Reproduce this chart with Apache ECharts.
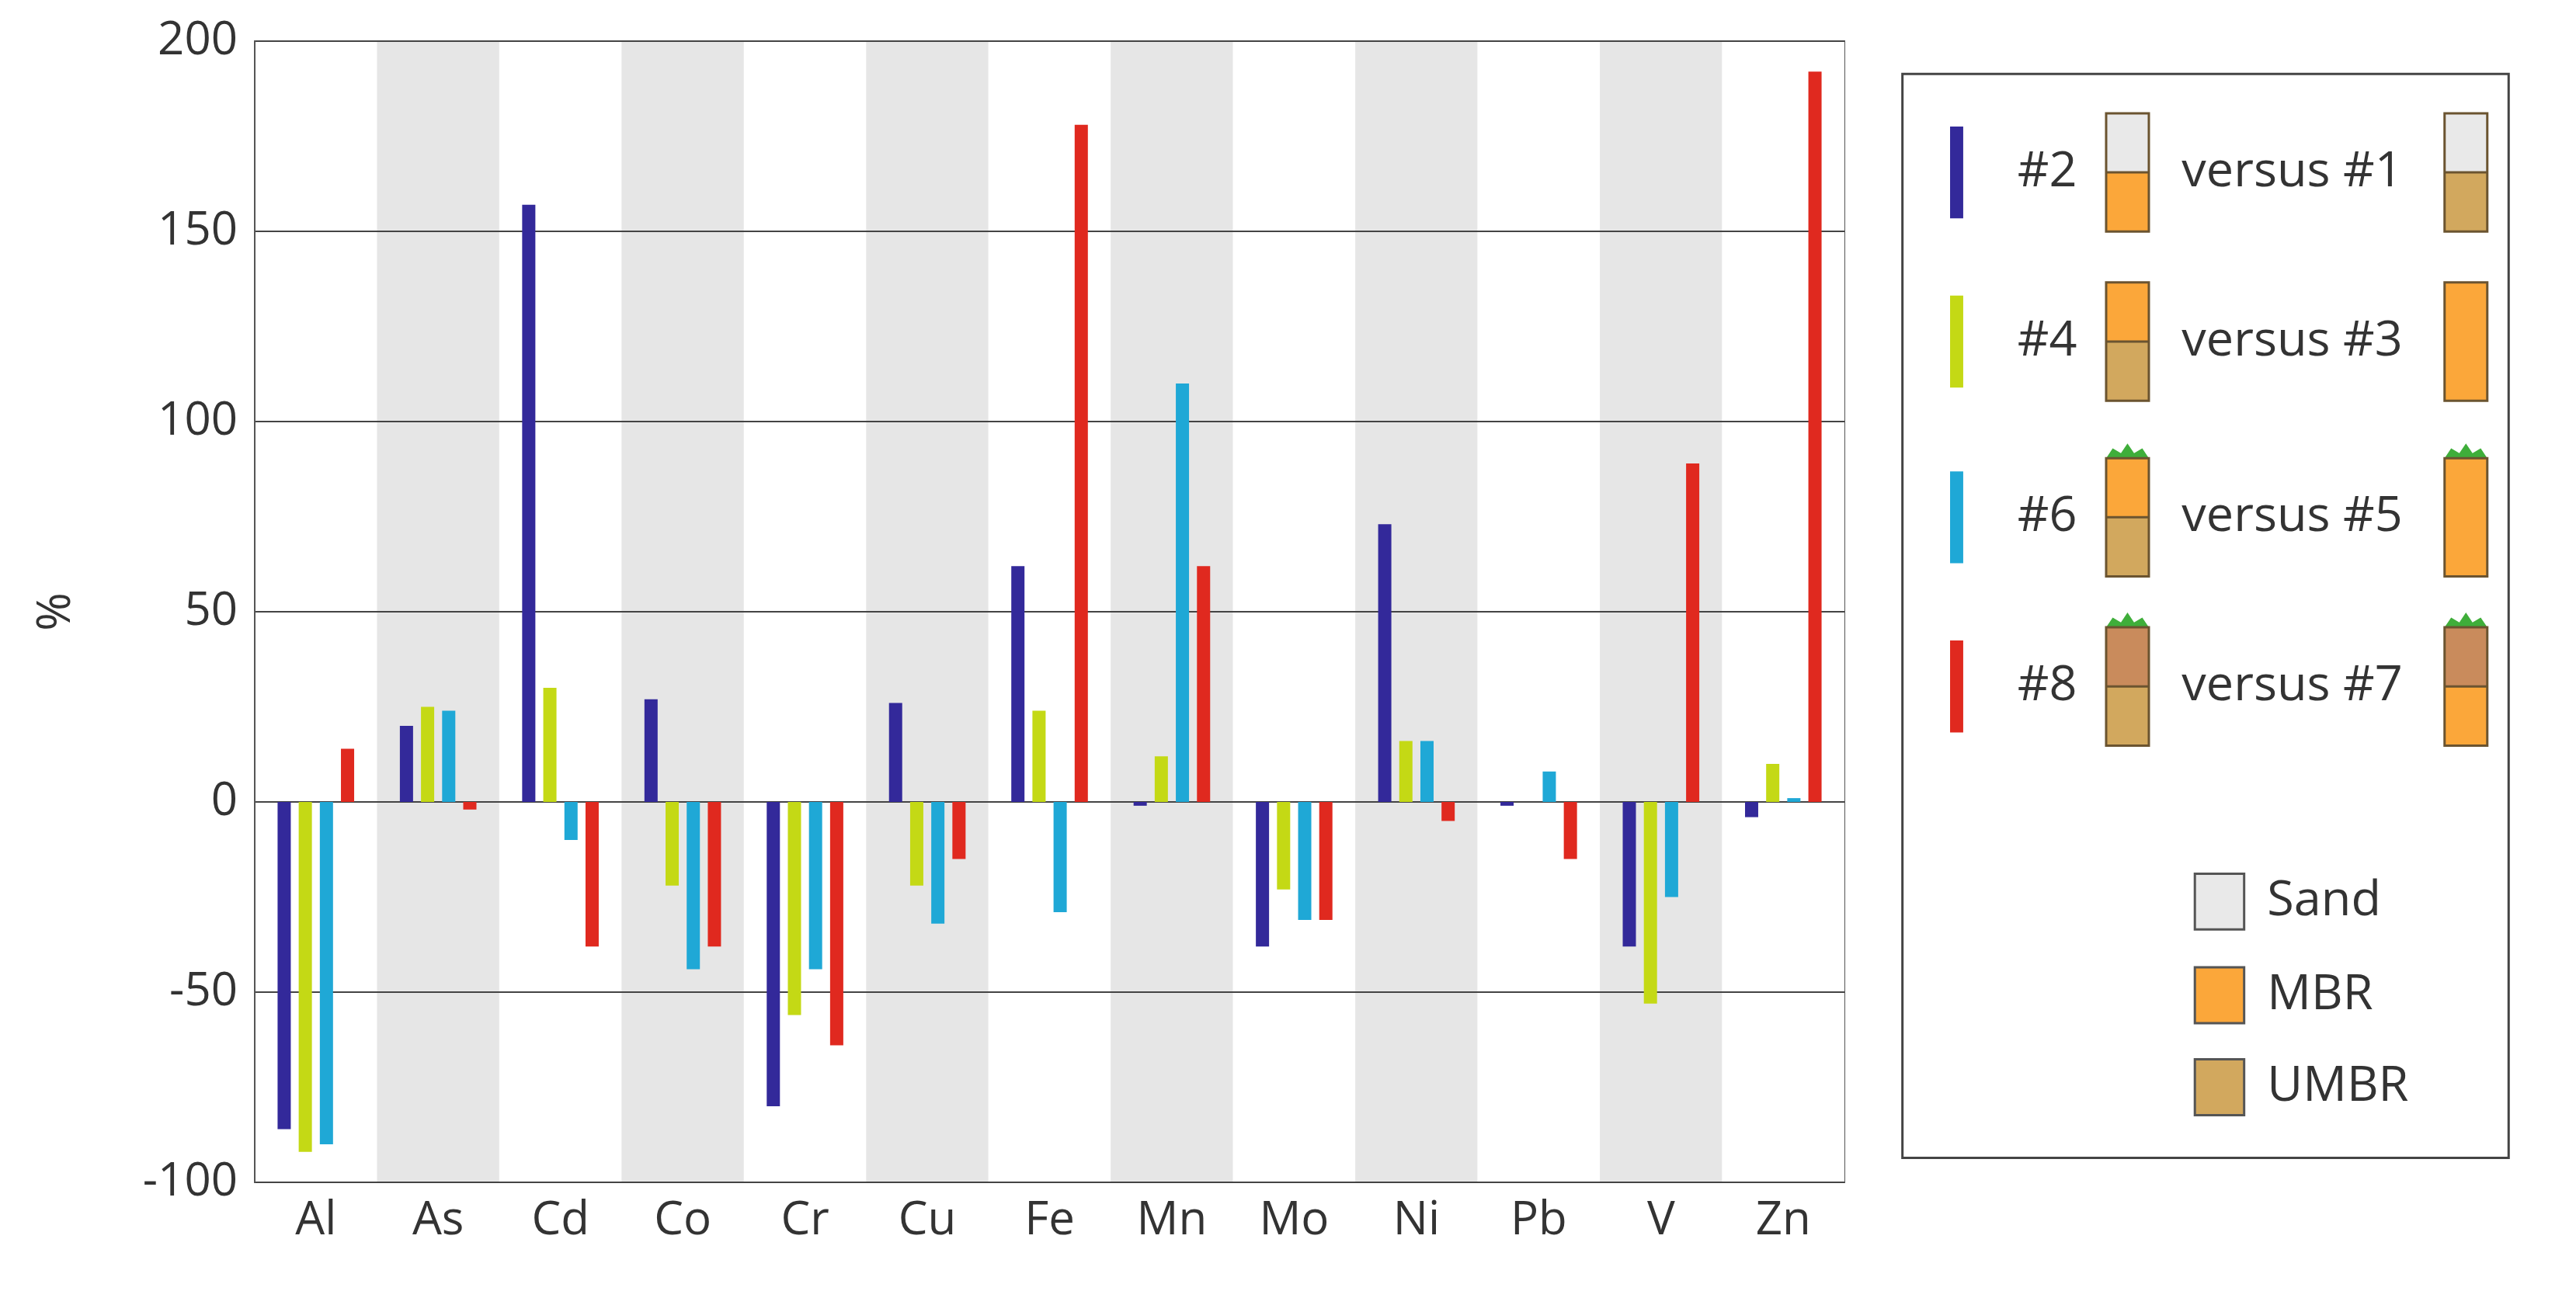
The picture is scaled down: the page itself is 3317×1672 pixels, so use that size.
<!DOCTYPE html>
<html><head><meta charset="utf-8">
<script src="https://cdn.jsdelivr.net/npm/echarts@6/dist/echarts.min.js"></script>
<style>html,body{margin:0;padding:0;background:#fff}#c{width:3317px;height:1672px}</style>
</head><body><div id="c"></div>
<script>
const categories = ['Al','As','Cd','Co','Cr','Cu','Fe','Mn','Mo','Ni','Pb','V','Zn'];
const s2v1 = [-86, 20, 157, 27, -80, 26, 62, -1, -38, 73, -1, -38, -4];
const s4v3 = [-92, 25, 30, -22, -56, -22, 24, 12, -23, 16, 0, -53, 10];
const s6v5 = [-90, 24, -10, -44, -44, -32, -29, 110, -31, 16, 8, -25, 1];
const s8v7 = [14, -2, -38, -38, -64, -15, 178, 62, -31, -5, -15, 89, 192];
const seriesNames = ['#2 versus #1','#4 versus #3','#6 versus #5','#8 versus #7'];
const colors = ['#33299a','#c4d915','#1fa8d6','#e0291f'];
const yTicks = [-100, -50, 0, 50, 100, 150, 200];

const S = 3317/1568;
const F = 'Open Sans, DejaVu Sans, sans-serif';
const SAND='#e9e9e9', MBR='#fba73a', UMBR='#d2a85e', BROWN='#c98b5c', EDGE='#6b5430';
const g = [];
function R(x,y,w,h,fill,stroke){g.push({type:'rect',shape:{x:x*S,y:y*S,width:w*S,height:h*S},style:{fill:fill,stroke:stroke||null,lineWidth:stroke?3:0},z:10});}
function T(x,y,t){g.push({type:'text',x:x*S,y:y*S,style:{text:t,font:'500 '+(30*S).toFixed(0)+'px '+F,fill:'#333',verticalAlign:'middle'},z:10});}
function icon(x,y,top,bot,grass){
  const w=26,h=72;
  if(grass){g.push({type:'polygon',shape:{points:[[x*S,y*S],[(x+4)*S,(y-6)*S],[(x+9)*S,(y-3)*S],[(x+13)*S,(y-9)*S],[(x+17)*S,(y-3)*S],[(x+22)*S,(y-6)*S],[(x+w)*S,y*S]]},style:{fill:'#3fae3a'},z:10});}
  if(top===bot){R(x,y,w,h,top,EDGE);}
  else{R(x,y,w,h/2,top,null);R(x,y+h/2,w,h/2,bot,null);R(x,y,w,h,'none',EDGE);
    g.push({type:'line',shape:{x1:x*S,y1:(y+h/2)*S,x2:(x+w)*S,y2:(y+h/2)*S},style:{stroke:EDGE,lineWidth:3},z:11});}
}
g.push({type:'rect',shape:{x:1158*S,y:45*S,width:369*S,height:660*S},style:{fill:'#fff',stroke:'#444',lineWidth:3},z:5});
const rows=[[105,'#2','#1',[SAND,MBR,0],[SAND,UMBR,0]],[208,'#4','#3',[MBR,UMBR,0],[MBR,MBR,0]],[315,'#6','#5',[MBR,UMBR,1],[MBR,MBR,1]],[418,'#8','#7',[BROWN,UMBR,1],[BROWN,MBR,1]]];
rows.forEach((r,i)=>{
  const y=r[0];
  R(1187,y-28,8,56,colors[i],null);
  T(1228,y,r[1]); icon(1282,y-36,r[3][0],r[3][1],r[3][2]);
  T(1328,y,'versus '+r[2]); icon(1488,y-36,r[4][0],r[4][1],r[4][2]);
});
[[549,SAND,'Sand'],[606,MBR,'MBR'],[662,UMBR,'UMBR']].forEach(a=>{R(1336,a[0]-17,30,34,a[1],'#555');T(1380,a[0],a[2]);});

const chart = echarts.init(document.getElementById('c'));
const series=[s2v1,s4v3,s6v5,s8v7].map((d,i)=>({name:seriesNames[i],type:'bar',data:d,barWidth:17,barGap:'60%',z:3,itemStyle:{color:colors[i]}}));
chart.setOption({
  animation:false,
  grid:{left:328,right:942,top:53,bottom:149,show:true,borderColor:'#555',borderWidth:2,backgroundColor:'transparent'},
  xAxis:{type:'category',data:categories,z:0,axisTick:{show:false},axisLine:{show:false},
    axisLabel:{fontSize:60,color:'#333',fontFamily:F,margin:20},
    splitArea:{show:true,areaStyle:{color:['#ffffff','#e6e6e6']}}},
  yAxis:{type:'value',z:1,min:yTicks[0],max:yTicks[yTicks.length-1],interval:50,
    name:'%',nameLocation:'middle',nameGap:225,nameRotate:90,nameTextStyle:{fontSize:60,color:'#333',fontFamily:F},
    axisLabel:{fontSize:60,color:'#333',fontFamily:F,margin:22},
    axisLine:{show:true,lineStyle:{color:'#555',width:2}},axisTick:{show:false},
    splitLine:{show:true,lineStyle:{color:'#444',width:2}}},
  series:series,
  graphic:g
});
</script></body></html>
